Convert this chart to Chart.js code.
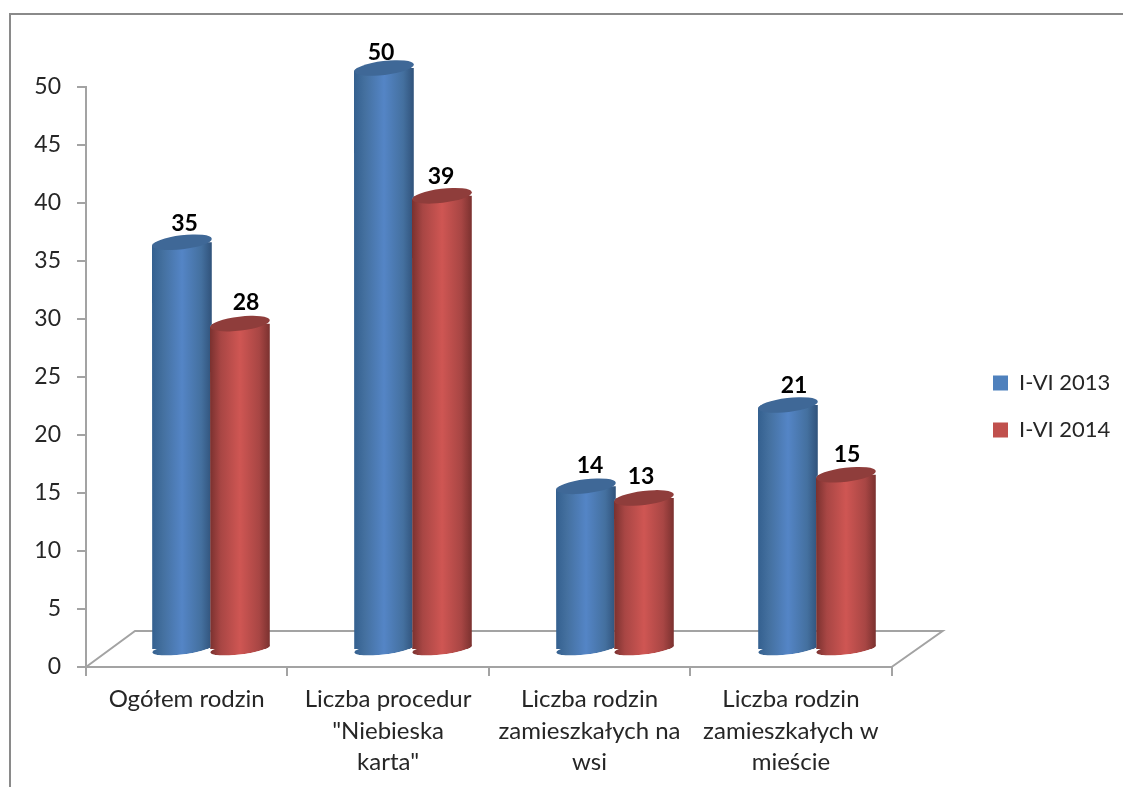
<!DOCTYPE html>
<html><head><meta charset="utf-8">
<script src="https://cdn.jsdelivr.net/npm/chart.js@4"></script>
<style>html,body{margin:0;padding:0;background:#fff}canvas{display:block}</style>
</head><body>
<canvas id="c" width="1123" height="787"></canvas>
<script>
const categories = [["Ogółem rodzin"], ["Liczba procedur", "\"Niebieska", "karta\""], ["Liczba rodzin", "zamieszkałych na", "wsi"], ["Liczba rodzin", "zamieszkałych w", "mieście"]];
const seriesNames = ["I-VI 2013", "I-VI 2014"];
const values2013 = [35, 50, 14, 21];
const values2014 = [28, 39, 13, 15];
const legendColors = ["#4f81bd", "#c0504d"];
const capColors = ["#3f6897", "#8f3d3b"];
const bodyStops = [["#34608f", "#5485c6", "#30527a"], ["#7a312f", "#cf5653", "#7a312f"]];
// small hand placement of the value labels, as in the original
const labelNudgeX = [[2.5, -3, 4, 6], [6, -1, -3, 1]];
const labelNudgeY = [[0, 4, -2, 0], [-2, 0, -2, -1]];

const FONT = "Lato";
const TILT = -0.12, RY = 7, RY_BASE = 5.5;
const halfBar = 30;

function barGradient(ctx2d, cx, ds) {
  const g = ctx2d.createLinearGradient(cx - halfBar, 0, cx + halfBar, 0);
  const s = bodyStops[ds];
  g.addColorStop(0, s[0]); g.addColorStop(0.18, ds ? "#a84644" : "#44709f");
  g.addColorStop(0.5, s[1]); g.addColorStop(0.82, ds ? "#a84644" : "#44709f");
  g.addColorStop(1, s[2]);
  return g;
}
function scriptedFill(ctx) {
  if (ctx.dataIndex === undefined) return legendColors[ctx.datasetIndex];
  const x = ctx.chart.scales.x2.getPixelForValue(ctx.dataIndex);
  const cx = x + (ctx.datasetIndex === 0 ? -29 : 29);
  return barGradient(ctx.chart.ctx, cx, ctx.datasetIndex);
}
// outline of one cylinder per bar: top arc over, bottom arc under
function outline(c, meta, base) {
  meta.data.forEach(el => {
    c.moveTo(el.x - halfBar, el.y);
    c.ellipse(el.x, el.y, halfBar, RY, TILT, Math.PI, Math.PI * 2);
    c.ellipse(el.x, base, halfBar, RY_BASE, TILT, 0, Math.PI);
    c.closePath();
  });
}
// The first series is painted last by the library, but the second one sits in front of it:
// keep the first series out of the second one's outline.
function clipBehind(chart, index, base) {
  if (index !== 0) return;
  const c = chart.ctx;
  c.beginPath();
  c.rect(0, 0, chart.width, chart.height);
  outline(c, chart.getDatasetMeta(1), base);
  c.clip("evenodd");
}

const cylinderPlugin = {
  id: "cylinder",
  beforeDraw(chart) {
    const c = chart.ctx;
    c.save();
    c.strokeStyle = "#8a8a8a"; c.lineWidth = 2;
    c.beginPath(); c.moveTo(10, 787); c.lineTo(10, 14); c.lineTo(1123, 14); c.stroke();
    c.restore();
  },
  afterLayout(chart) {
    // the bars stand on the rear plane of the 3-D floor
    const {x2, y2} = chart.scales;
    x2.left = 110; x2.right = 918; x2.width = 808; x2.configure();
    y2.top = 68; y2.bottom = 649; y2.height = 581; y2.configure();
    const lg = chart.legend;
    const w = lg.right - lg.left, h = lg.bottom - lg.top;
    lg.left = 968; lg.right = lg.left + w;
    lg.top = 347; lg.bottom = lg.top + h;
  },
  beforeDatasetsDraw(chart) {
    const {x, y} = chart.scales;
    const c = chart.ctx;
    const back = y.bottom - 36, bl = x.left + 49, br = x.right + 51;
    c.save();
    c.strokeStyle = "#a3a3a3"; c.lineWidth = 2;
    c.beginPath();
    c.moveTo(x.left, y.bottom); c.lineTo(bl, back); c.lineTo(br, back); c.lineTo(x.right, y.bottom);
    c.stroke();
    c.restore();
  },
  beforeDatasetDraw(chart, args) {
    const meta = chart.getDatasetMeta(args.index);
    const c = chart.ctx;
    const base = chart.scales.y2.getPixelForValue(0);
    c.save();
    clipBehind(chart, args.index, base);
    c.beginPath();
    outline(c, meta, base);
    c.clip();
    meta.data.forEach(el => {
      c.fillStyle = barGradient(c, el.x, args.index);
      c.beginPath();
      c.ellipse(el.x, base, halfBar, RY_BASE, TILT, 0, Math.PI * 2);
      c.fill();
    });
  },
  afterDatasetDraw(chart, args) {
    const meta = chart.getDatasetMeta(args.index);
    const c = chart.ctx;
    const base = chart.scales.y2.getPixelForValue(0);
    c.restore();
    c.save();
    clipBehind(chart, args.index, base);
    c.fillStyle = capColors[args.index];
    meta.data.forEach(el => {
      c.beginPath();
      c.ellipse(el.x, el.y, halfBar, RY, TILT, 0, Math.PI * 2);
      c.fill();
    });
    c.restore();
  },
  afterDatasetsDraw(chart) {
    const c = chart.ctx;
    c.save();
    c.font = "bold 23px " + FONT;
    c.fillStyle = "#000"; c.textAlign = "center"; c.textBaseline = "middle";
    chart.data.datasets.forEach((d, i) => {
      chart.getDatasetMeta(i).data.forEach((el, j) => {
        c.fillText(String(d.data[j]), el.x + labelNudgeX[i][j], el.y - 19 + labelNudgeY[i][j]);
      });
    });
    c.restore();
  }
};

new Chart(document.getElementById("c"), {
  type: "bar",
  data: {
    labels: categories,
    datasets: [
      {label: seriesNames[0], data: values2013, xAxisID: "x2", yAxisID: "y2", clip: false,
       backgroundColor: scriptedFill, categoryPercentage: 116 / 202, barPercentage: 60 / 58},
      {label: seriesNames[1], data: values2014, xAxisID: "x2", yAxisID: "y2", clip: false,
       backgroundColor: scriptedFill, categoryPercentage: 116 / 202, barPercentage: 60 / 58}
    ]
  },
  plugins: [cylinderPlugin],
  options: {
    responsive: false, animation: false, devicePixelRatio: 1,
    layout: {padding: {left: 10, top: 87, right: 79, bottom: 10}},
    font: {family: FONT},
    scales: {
      x: {
        type: "category", offset: true, position: "bottom",
        afterFit: s => { s.height = 110; },
        grid: {offset: true, drawOnChartArea: false, drawTicks: true, tickLength: 9, color: "#a3a3a3", lineWidth: 2},
        border: {display: true, color: "#a3a3a3", width: 2},
        ticks: {maxRotation: 0, minRotation: 0, autoSkip: false, padding: 8, color: "#262626", font: {family: FONT, size: 24, lineHeight: 1.31}}
      },
      y: {
        type: "linear", min: 0, max: 50, position: "left",
        afterFit: s => { s.width = 76; },
        grid: {drawOnChartArea: false, drawTicks: true, tickLength: 9, color: "#a3a3a3", lineWidth: 2},
        border: {display: true, color: "#a3a3a3", width: 2},
        ticks: {stepSize: 5, padding: 16, color: "#262626", font: {family: FONT, size: 23}}
      },
      x2: {type: "category", axis: "x", offset: true, display: false, grid: {offset: true}},
      y2: {type: "linear", axis: "y", min: 0, max: 50, display: false}
    },
    plugins: {
      tooltip: {enabled: false},
      title: {display: false},
      legend: {
        display: true, position: "right", align: "start",
        labels: {
          boxWidth: 15, boxHeight: 15, padding: 25, color: "#262626",
          font: {family: FONT, size: 22},
          generateLabels: () => seriesNames.map((n, i) => ({text: n, fillStyle: legendColors[i], strokeStyle: legendColors[i], lineWidth: 0, datasetIndex: i, fontColor: "#262626"}))
        }
      }
    }
  }
});
</script>
</body></html>
